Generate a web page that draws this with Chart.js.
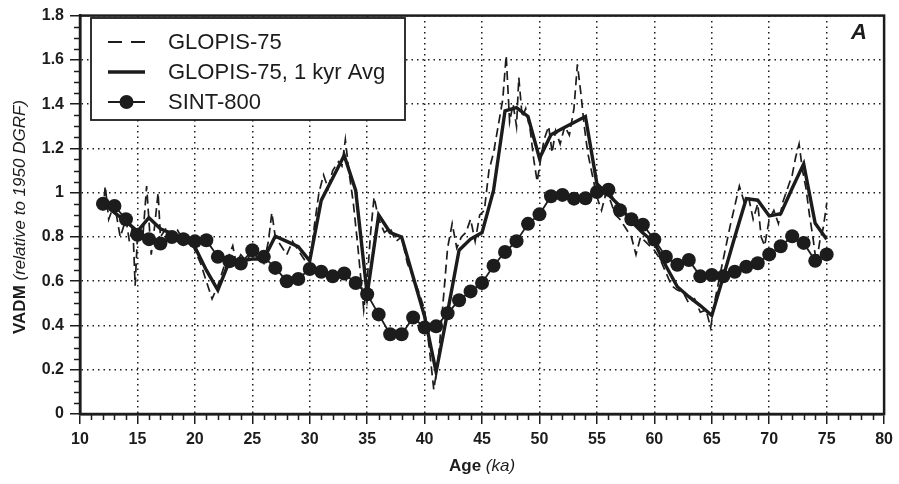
<!DOCTYPE html>
<html>
<head>
<meta charset="utf-8">
<script src="https://cdn.jsdelivr.net/npm/chart.js@4.4.1/dist/chart.umd.min.js"></script>
<style>
  html, body { margin: 0; padding: 0; background: #fff; }
  #wrap { width: 899px; height: 484px; position: relative; }
</style>
</head>
<body>
<div id="wrap"><canvas id="vadm"></canvas></div>
<script>
// GLOPIS-75 (raw, dashed)
const glopisAge = [12.0, 12.2, 12.5, 13.0, 13.5, 14.0, 14.3, 14.6, 14.8, 15.0, 15.5, 15.8, 16.2, 16.5, 16.8, 17.0, 17.5, 18.0, 18.5, 19.0, 19.5, 20.0, 20.5, 21.0, 21.5, 22.0, 22.5, 23.0, 23.3, 23.6, 24.0, 24.5, 25.0, 25.5, 26.0, 26.4, 26.7, 27.0, 27.5, 28.0, 28.5, 29.0, 29.5, 30.0, 30.4, 30.8, 31.2, 31.6, 32.0, 32.5, 32.8, 33.1, 33.4, 33.8, 34.2, 34.7, 35.0, 35.3, 35.6, 36.0, 36.5, 37.0, 37.5, 38.0, 38.5, 39.0, 39.5, 40.0, 40.4, 40.8, 41.2, 41.6, 42.0, 42.4, 42.8, 43.2, 43.6, 44.0, 44.4, 44.8, 45.2, 45.6, 46.0, 46.4, 46.8, 47.1, 47.4, 47.7, 48.0, 48.2, 48.5, 48.8, 49.2, 49.5, 49.8, 50.1, 50.4, 50.8, 51.1, 51.4, 51.8, 52.2, 52.6, 53.0, 53.3, 53.6, 53.9, 54.2, 54.6, 55.0, 55.4, 55.8, 56.2, 56.6, 57.0, 57.5, 58.0, 58.4, 58.8, 59.2, 59.6, 60.0, 60.5, 61.0, 61.5, 62.0, 62.5, 63.0, 63.5, 64.0, 64.5, 64.9, 65.3, 65.8, 66.2, 66.6, 67.0, 67.4, 67.8, 68.2, 68.6, 69.0, 69.3, 69.6, 70.0, 70.4, 70.8, 71.2, 71.6, 72.0, 72.3, 72.6, 72.9, 73.2, 73.5, 73.8, 74.1, 74.4, 74.7, 75.0];
const glopisVadm = [0.92, 1.03, 0.88, 0.95, 0.80, 0.88, 0.78, 0.85, 0.58, 0.80, 0.82, 1.03, 0.72, 0.85, 1.00, 0.80, 0.84, 0.80, 0.83, 0.78, 0.80, 0.74, 0.68, 0.60, 0.52, 0.58, 0.66, 0.72, 0.76, 0.68, 0.72, 0.69, 0.74, 0.70, 0.68, 0.78, 0.91, 0.80, 0.76, 0.72, 0.78, 0.74, 0.70, 0.66, 0.85, 1.00, 1.08, 1.02, 1.10, 1.14, 1.12, 1.24, 1.10, 0.95, 0.75, 0.47, 0.60, 0.82, 0.98, 0.88, 0.82, 0.84, 0.78, 0.80, 0.68, 0.62, 0.55, 0.47, 0.30, 0.11, 0.25, 0.50, 0.75, 0.86, 0.75, 0.80, 0.82, 0.88, 0.78, 0.90, 0.92, 1.10, 1.18, 1.30, 1.42, 1.62, 1.32, 1.40, 1.30, 1.52, 1.34, 1.38, 1.28, 1.15, 1.05, 1.15, 1.24, 1.30, 1.18, 1.28, 1.22, 1.30, 1.26, 1.38, 1.58, 1.45, 1.30, 1.18, 1.08, 0.98, 0.92, 1.00, 0.96, 0.90, 0.88, 0.84, 0.80, 0.72, 0.80, 0.78, 0.76, 0.74, 0.70, 0.64, 0.58, 0.56, 0.55, 0.50, 0.52, 0.46, 0.47, 0.39, 0.52, 0.65, 0.75, 0.85, 0.94, 1.03, 0.96, 0.98, 0.88, 0.95, 0.80, 0.76, 0.88, 0.92, 0.86, 0.96, 1.02, 1.08, 1.16, 1.22, 1.10, 1.02, 0.90, 0.80, 0.68, 0.78, 0.84, 0.95];

// GLOPIS-75, 1 kyr average (solid)
const avgAge = [12, 13, 14, 15, 16, 17, 18, 19, 20, 21, 22, 23, 24, 25, 26, 27, 28, 29, 30, 31, 32, 33, 34, 35, 36, 37, 38, 39, 40, 41, 42, 43, 44, 45, 46, 47, 48, 49, 50, 51, 52, 53, 54, 55, 56, 57, 58, 59, 60, 61, 62, 63, 64, 65, 66, 67, 68, 69, 70, 71, 72, 73, 74, 75];
const avgVadm = [0.96, 0.91, 0.87, 0.825, 0.887, 0.837, 0.815, 0.79, 0.755, 0.65, 0.56, 0.69, 0.692, 0.70, 0.70, 0.803, 0.78, 0.756, 0.692, 0.965, 1.066, 1.168, 1.01, 0.54, 0.899, 0.82, 0.80, 0.62, 0.44, 0.19, 0.46, 0.74, 0.79, 0.82, 1.01, 1.37, 1.384, 1.344, 1.155, 1.262, 1.29, 1.317, 1.344, 1.04, 0.99, 0.94, 0.87, 0.818, 0.775, 0.67, 0.575, 0.53, 0.49, 0.445, 0.62, 0.80, 0.973, 0.966, 0.895, 0.905, 1.02, 1.13, 0.862, 0.79];

// SINT-800 (dots)
const sintAge = [12, 13, 14, 15, 16, 17, 18, 19, 20, 21, 22, 23, 24, 25, 26, 27, 28, 29, 30, 31, 32, 33, 34, 35, 36, 37, 38, 39, 40, 41, 42, 43, 44, 45, 46, 47, 48, 49, 50, 51, 52, 53, 54, 55, 56, 57, 58, 59, 60, 61, 62, 63, 64, 65, 66, 67, 68, 69, 70, 71, 72, 73, 74, 75];
const sintVadm = [0.95, 0.94, 0.88, 0.81, 0.79, 0.77, 0.80, 0.79, 0.78, 0.785, 0.71, 0.69, 0.68, 0.74, 0.71, 0.66, 0.60, 0.61, 0.655, 0.643, 0.622, 0.635, 0.592, 0.541, 0.45, 0.36, 0.36, 0.436, 0.391, 0.396, 0.455, 0.514, 0.554, 0.592, 0.67, 0.732, 0.781, 0.859, 0.902, 0.984, 0.99, 0.973, 0.975, 1.003, 1.013, 0.921, 0.88, 0.855, 0.788, 0.711, 0.674, 0.696, 0.622, 0.628, 0.622, 0.643, 0.665, 0.681, 0.721, 0.758, 0.803, 0.773, 0.692, 0.721];

const seriesNames = ["GLOPIS-75", "GLOPIS-75, 1 kyr Avg", "SINT-800"];
const FONT = '"Liberation Sans", Arial, Helvetica, sans-serif';
const INK = "#1c1c1c";

const pairs = (xs, ys) => xs.map((x, i) => ({ x: x, y: ys[i] }));

// frame, minor ticks, axis titles, legend box and panel letter
const decorations = {
  id: "decorations",
  afterDraw(chart) {
    const { ctx, chartArea: a, scales } = chart;
    const sx = scales.x, sy = scales.y;
    ctx.save();
    ctx.strokeStyle = INK;
    ctx.fillStyle = INK;

    // frame
    ctx.lineWidth = 2.5;
    ctx.strokeRect(a.left, a.top, a.right - a.left, a.bottom - a.top);

    // minor ticks
    ctx.lineWidth = 1.5;
    ctx.beginPath();
    for (let v = 10; v <= 80; v++) {
      if (v % 5 === 0) continue;
      const px = Math.round(sx.getPixelForValue(v)) + 0.5;
      ctx.moveTo(px, a.bottom);
      ctx.lineTo(px, a.bottom + 6);
    }
    for (let k = 0; k <= 36; k++) {
      if (k % 4 === 0) continue;
      const py = Math.round(sy.getPixelForValue(k * 0.05)) + 0.5;
      ctx.moveTo(a.left - 6, py);
      ctx.lineTo(a.left, py);
    }
    ctx.stroke();

    // x title: Age (ka)
    ctx.textBaseline = "middle";
    ctx.textAlign = "left";
    const xt1 = "Age", xt2 = " (ka)";
    ctx.font = "bold 17px " + FONT;
    const w1 = ctx.measureText(xt1).width;
    ctx.font = "italic 17px " + FONT;
    const w2 = ctx.measureText(xt2).width;
    const cx = (a.left + a.right) / 2;
    let x0 = cx - (w1 + w2) / 2;
    ctx.font = "bold 17px " + FONT;
    ctx.fillText(xt1, x0, 466);
    ctx.font = "italic 17px " + FONT;
    ctx.fillText(xt2, x0 + w1, 466);

    // y title
    ctx.save();
    ctx.translate(20, 217);
    ctx.rotate(-Math.PI / 2);
    const yt1 = "VADM", yt2 = " (relative to 1950 DGRF)";
    ctx.font = "bold 17px " + FONT;
    const v1 = ctx.measureText(yt1).width;
    ctx.font = "italic 17px " + FONT;
    const v2 = ctx.measureText(yt2).width;
    x0 = -(v1 + v2) / 2;
    ctx.font = "bold 17px " + FONT;
    ctx.fillText(yt1, x0, 0);
    ctx.font = "italic 17px " + FONT;
    ctx.fillText(yt2, x0 + v1, 0);
    ctx.restore();

    // panel letter
    ctx.font = "italic bold 22px " + FONT;
    ctx.textAlign = "center";
    ctx.fillText("A", 859, 33);

    // legend
    const box = { l: 91, t: 18, r: 405, b: 120 };
    ctx.fillStyle = "#fff";
    ctx.fillRect(box.l, box.t, box.r - box.l, box.b - box.t);
    ctx.lineWidth = 1.8;
    ctx.strokeRect(box.l, box.t, box.r - box.l, box.b - box.t);
    ctx.fillStyle = INK;
    const rows = [42, 72, 102];
    const lx0 = 108, lx1 = 145;
    // dashed sample
    ctx.lineWidth = 1.8;
    ctx.setLineDash([14, 9]);
    ctx.beginPath(); ctx.moveTo(lx0, rows[0]); ctx.lineTo(lx1, rows[0]); ctx.stroke();
    ctx.setLineDash([]);
    // solid sample
    ctx.lineWidth = 3.4;
    ctx.beginPath(); ctx.moveTo(lx0, rows[1]); ctx.lineTo(lx1, rows[1]); ctx.stroke();
    // dot sample
    ctx.lineWidth = 1.8;
    ctx.beginPath(); ctx.moveTo(lx0, rows[2]); ctx.lineTo(lx1, rows[2]); ctx.stroke();
    ctx.beginPath(); ctx.arc((lx0 + lx1) / 2, rows[2], 7, 0, Math.PI * 2); ctx.fill();
    ctx.font = "22px " + FONT;
    ctx.textAlign = "left";
    ctx.textBaseline = "middle";
    seriesNames.forEach((name, i) => ctx.fillText(name, 168, rows[i] + 1));
    ctx.restore();
  }
};

new Chart(document.getElementById("vadm"), {
  type: "line",
  data: {
    datasets: [
      {
        label: seriesNames[2],
        data: pairs(sintAge, sintVadm),
        borderColor: INK,
        borderWidth: 1.8,
        pointRadius: 7,
        pointBackgroundColor: INK,
        pointBorderWidth: 0,
        tension: 0,
        order: 0,
      },
      {
        label: seriesNames[1],
        data: pairs(avgAge, avgVadm),
        borderColor: INK,
        borderWidth: 3.4,
        pointRadius: 0,
        tension: 0,
        order: 1,
      },
      {
        label: seriesNames[0],
        data: pairs(glopisAge, glopisVadm),
        borderColor: INK,
        borderWidth: 1.7,
        borderDash: [9, 5],
        pointRadius: 0,
        tension: 0,
        order: 2,
      },
    ],
  },
  options: {
    responsive: true,
    maintainAspectRatio: false,
    animation: false,
    layout: { padding: { top: 9, right: 10, left: 0, bottom: 0 } },
    plugins: { legend: { display: false }, tooltip: { enabled: false } },
    scales: {
      x: {
        type: "linear",
        min: 10,
        max: 80,
        afterFit: (s) => { s.height = 70; },
        ticks: {
          stepSize: 5,
          color: INK,
          padding: 6,
          maxRotation: 0,
          font: { family: FONT, size: 16, weight: "bold" },
        },
        grid: {
          color: INK,
          lineWidth: 1.5,
          tickLength: 10,
          tickWidth: 1.5,
          tickColor: INK,
        },
        border: { display: true, color: INK, width: 2.5, dash: [1.5, 4] },
      },
      y: {
        type: "linear",
        min: 0,
        max: 1.8,
        afterFit: (s) => { s.width = 80; },
        ticks: {
          stepSize: 0.2,
          color: INK,
          padding: 6,
          font: { family: FONT, size: 16, weight: "bold" },
          callback: (v) => String(+v.toFixed(1)),
        },
        grid: {
          color: INK,
          lineWidth: 1.5,
          tickLength: 10,
          tickWidth: 1.5,
          tickColor: INK,
        },
        border: { display: true, color: INK, width: 2.5, dash: [1.5, 4] },
      },
    },
  },
  plugins: [decorations],
});
</script>
</body>
</html>
